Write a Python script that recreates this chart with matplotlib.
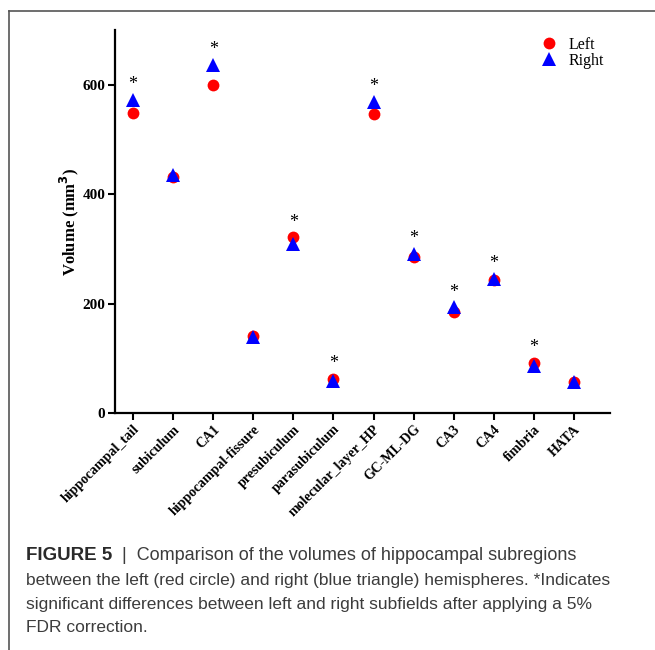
import matplotlib
matplotlib.use("Agg")
import matplotlib.pyplot as plt
from matplotlib.lines import Line2D
import numpy as np

categories = ["hippocampal_tail", "subiculum", "CA1", "hippocampal-fissure",
              "presubiculum", "parasubiculum", "molecular_layer_HP", "GC-ML-DG",
              "CA3", "CA4", "fimbria", "HATA"]
left_vals = [549, 432, 599, 141, 321, 63, 546, 286, 184, 243, 91, 57]
right_vals = [573, 435, 636, 139, 309, 58, 569, 290, 193, 245, 86, 56]
significant = [True, False, True, False, True, True, True, True, True, True, True, False]
y_ticks = [0, 200, 400, 600]

serif = ["Liberation Serif", "DejaVu Serif"]

fig = plt.figure(figsize=(6.55, 6.5), dpi=100)
ax = fig.add_axes([0.1756, 0.3646, 0.7557, 0.589])

x = np.arange(len(categories))
ax.plot(x, left_vals, linestyle="none", marker="o", markersize=8.5,
        color="#ff0000", markeredgewidth=0, label="Left")
ax.plot(x, right_vals, linestyle="none", marker="^", markersize=9.5,
        color="#0000ff", markeredgewidth=0, label="Right")

for xi, l, r, s in zip(x, left_vals, right_vals, significant):
    if s:
        ax.annotate("*", xy=(xi, max(l, r)), xytext=(0, 5), textcoords="offset points",
                    ha="center", va="bottom", fontsize=13, family=serif, color="black")

ax.set_xlim(-0.45, 11.9)
ax.set_ylim(0, 700)
ax.set_yticks(y_ticks)
ax.set_xticks(x)
ax.set_xticklabels(categories, rotation=45, ha="right", rotation_mode="anchor",
                   fontsize=10, fontweight="bold", family=serif)
for lab in ax.get_yticklabels():
    lab.set_fontsize(11)
    lab.set_fontweight("bold")
    lab.set_family(serif)

for sp in ["top", "right"]:
    ax.spines[sp].set_visible(False)
for sp in ["left", "bottom"]:
    ax.spines[sp].set_linewidth(1.6)
ax.tick_params(axis="both", direction="out", length=5, width=1.5, pad=2)

ax.set_ylabel("Volume (mm$^\\mathbf{3}$)", fontsize=12, fontweight="bold", family=serif, labelpad=1)

leg = ax.legend(loc="upper right", bbox_to_anchor=(1.0, 1.0), frameon=False,
                prop={"family": serif, "size": 11.5}, handletextpad=0.6,
                labelspacing=0.0, handlelength=1.2, borderaxespad=0)

# figure frame lines
fig.add_artist(Line2D([9 / 655, 1.0], [1 - 11 / 650, 1 - 11 / 650], color="#555555", lw=1.2))
fig.add_artist(Line2D([9 / 655, 9 / 655], [0, 1 - 11 / 650], color="#555555", lw=1.2))

# caption
cap_color = "#3c3c3c"
cap_font = ["Liberation Sans", "DejaVu Sans"]
t1 = fig.text(26 / 655, 1 - 556 / 650, "FIGURE 5", fontsize=13.5, fontweight="bold",
              family=cap_font, color="#2a2a2a", va="center")
ax.annotate("  |  Comparison of the volumes of hippocampal subregions", xy=(1, 0),
            xycoords=t1, va="bottom", ha="left", fontsize=13.0, family=cap_font,
            color=cap_color, annotation_clip=False)
lines = ["between the left (red circle) and right (blue triangle) hemispheres. *Indicates",
         "significant differences between left and right subfields after applying a 5%",
         "FDR correction."]
for i, ln in enumerate(lines):
    fig.text(26 / 655, 1 - (580 + 24 * i) / 650, ln, fontsize=12.5, family=cap_font,
             color=cap_color, va="center")

fig.savefig("out.png", dpi=100)
